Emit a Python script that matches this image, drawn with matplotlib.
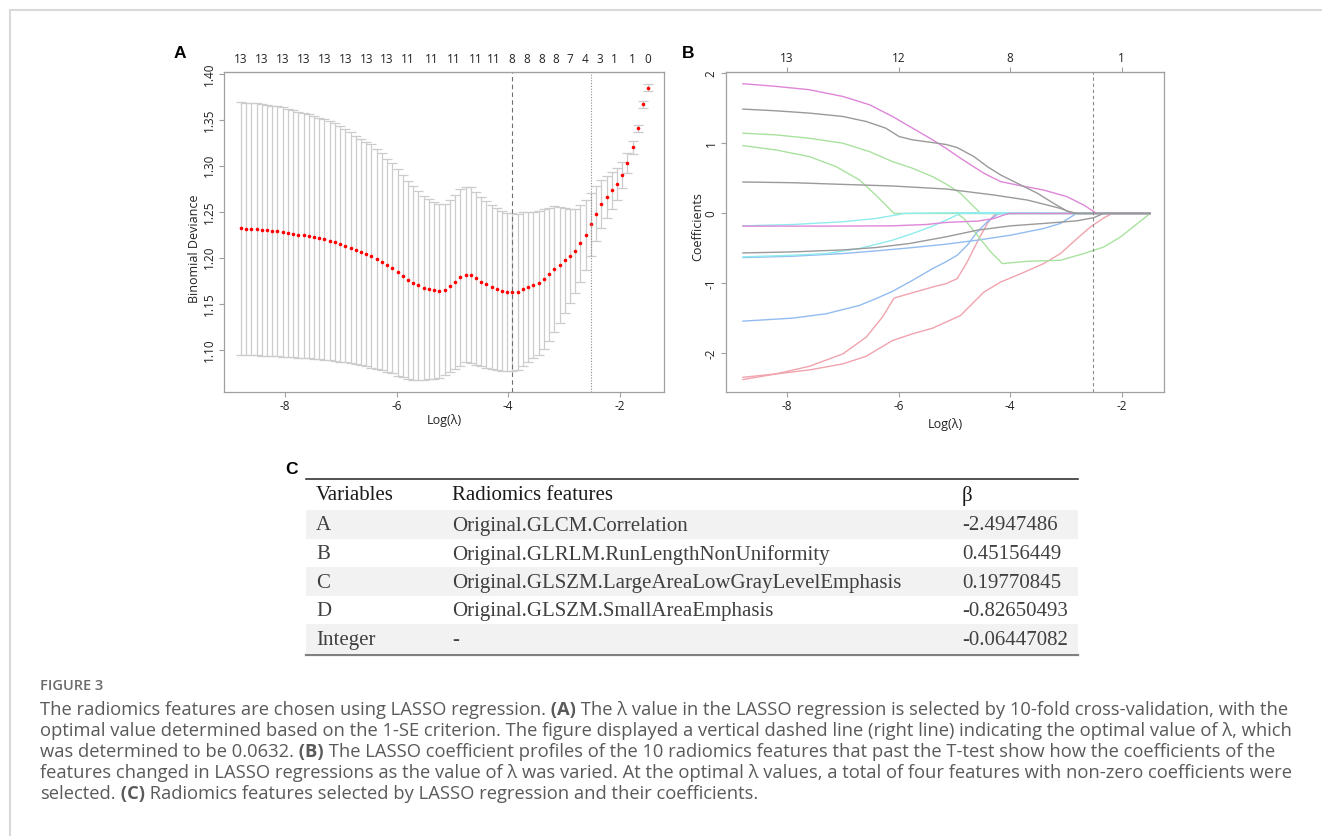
import matplotlib
matplotlib.use("Agg")
import matplotlib.pyplot as plt
from matplotlib.patches import Rectangle

plt.rcParams['axes.unicode_minus'] = False
plt.rcParams['font.family'] = ['Open Sans', 'DejaVu Sans']

# ---- panel A: cross-validation curve ----
log_lambda = [-8.790, -8.696, -8.603, -8.509, -8.416, -8.322, -8.228, -8.135, -8.041, -7.948,
              -7.854, -7.760, -7.667, -7.573, -7.480, -7.386, -7.292, -7.199, -7.105, -7.012,
              -6.918, -6.824, -6.731, -6.637, -6.544, -6.450, -6.356, -6.263, -6.169, -6.076,
              -5.982, -5.888, -5.795, -5.701, -5.608, -5.514, -5.420, -5.327, -5.233, -5.140,
              -5.046, -4.952, -4.859, -4.765, -4.672, -4.578, -4.484, -4.391, -4.297, -4.204,
              -4.110, -4.016, -3.923, -3.829, -3.736, -3.642, -3.548, -3.455, -3.361, -3.268,
              -3.174, -3.080, -2.987, -2.893, -2.800, -2.706, -2.612, -2.519, -2.425, -2.332,
              -2.238, -2.144, -2.051, -1.957, -1.864, -1.770, -1.676, -1.583, -1.490]
cv_mean = [1.2319, 1.2315, 1.2312, 1.2308, 1.2301, 1.2297, 1.2293, 1.2286, 1.2279, 1.2272,
           1.2261, 1.2250, 1.2243, 1.2232, 1.2221, 1.2210, 1.2199, 1.2185, 1.2170, 1.2152,
           1.2130, 1.2108, 1.2083, 1.2061, 1.2040, 1.2018, 1.1986, 1.1957, 1.1920, 1.1884,
           1.1841, 1.1801, 1.1761, 1.1725, 1.1699, 1.1674, 1.1656, 1.1645, 1.1638, 1.1652,
           1.1692, 1.1732, 1.1786, 1.1815, 1.1812, 1.1775, 1.1739, 1.1710, 1.1681, 1.1656,
           1.1638, 1.1630, 1.1627, 1.1630, 1.1659, 1.1685, 1.1703, 1.1728, 1.1768, 1.1819,
           1.1877, 1.1920, 1.1971, 1.2018, 1.2076, 1.2156, 1.2250, 1.2362, 1.2478, 1.2580,
           1.2659, 1.2732, 1.2801, 1.2899, 1.3029, 1.3199, 1.3406, 1.3667, 1.3851]
cv_se = [0.1377, 0.1373, 0.1373, 0.1370, 0.1366, 0.1362, 0.1362, 0.1359, 0.1355, 0.1351,
         0.1344, 0.1337, 0.1333, 0.1326, 0.1319, 0.1312, 0.1308, 0.1301, 0.1293, 0.1283,
         0.1268, 0.1257, 0.1243, 0.1232, 0.1221, 0.1214, 0.1196, 0.1181, 0.1159, 0.1141,
         0.1123, 0.1101, 0.1076, 0.1051, 0.1025, 0.1000, 0.0978, 0.0960, 0.0949, 0.0931,
         0.0935, 0.0946, 0.0964, 0.0953, 0.0953, 0.0938, 0.0920, 0.0909, 0.0891, 0.0880,
         0.0870, 0.0859, 0.0855, 0.0851, 0.0837, 0.0815, 0.0797, 0.0783, 0.0757, 0.0725,
         0.0681, 0.0630, 0.0572, 0.0514, 0.0457, 0.0417, 0.0380, 0.0344, 0.0301, 0.0261,
         0.0228, 0.0199, 0.0170, 0.0141, 0.0109, 0.0069, 0.0040, 0.0036, 0.0036]
log_lambda_min = -3.923
log_lambda_1se = -2.519
df_pos_a = [-8.79, -8.42, -8.04, -7.67, -7.29, -6.92, -6.54, -6.17, -5.80, -5.37, -4.97, -4.58,
            -4.26, -3.94, -3.67, -3.40, -3.15, -2.89, -2.62, -2.36, -2.10, -1.77, -1.50]
df_labels_a = ["13", "13", "13", "13", "13", "13", "13", "13", "11", "11", "11", "11",
               "11", "8", "8", "8", "8", "7", "4", "3", "1", "1", "0"]
yticks_a = [1.10, 1.15, 1.20, 1.25, 1.30, 1.35, 1.40]

# ---- panel B: coefficient paths ----
red1_x = [-8.79, -8.20, -7.60, -7.00, -6.58, -6.29, -6.08, -5.81, -5.39, -5.15, -4.95, -4.77, -4.59, -4.41, -4.29, -4.23, -1.49]
red1_y = [-2.373, -2.292, -2.183, -2.006, -1.767, -1.480, -1.208, -1.146, -1.051, -1.003, -0.931, -0.692, -0.406, -0.143, -0.024, 0, 0]
red2_x = [-8.79, -8.20, -7.60, -7.00, -6.58, -6.11, -5.75, -5.39, -5.15, -4.89, -4.71, -4.47, -4.17, -3.81, -3.40, -3.10, -2.80, -2.56, -2.32, -2.17, -1.49]
red2_y = [-2.340, -2.292, -2.235, -2.149, -2.039, -1.815, -1.719, -1.638, -1.552, -1.457, -1.313, -1.122, -0.979, -0.860, -0.716, -0.573, -0.358, -0.191, -0.062, 0, 0]
blue2_x = [-8.79, -7.90, -7.30, -6.70, -6.41, -6.11, -5.75, -5.39, -5.15, -4.95, -4.77, -4.59, -4.41, -4.23, -4.17, -1.49]
blue2_y = [-1.538, -1.495, -1.433, -1.313, -1.218, -1.113, -0.955, -0.788, -0.690, -0.597, -0.454, -0.263, -0.119, -0.014, 0, 0]
blue1_x = [-8.79, -7.90, -7.00, -6.41, -5.81, -5.15, -4.59, -3.99, -3.40, -3.10, -2.86, -2.82, -1.49]
blue1_y = [-0.630, -0.611, -0.573, -0.535, -0.492, -0.439, -0.382, -0.310, -0.215, -0.143, -0.024, 0, 0]
green1_x = [-8.79, -8.20, -7.60, -7.00, -6.52, -6.11, -5.75, -5.39, -5.15, -4.89, -4.71, -4.53, -1.49]
green1_y = [1.146, 1.122, 1.074, 1.003, 0.883, 0.740, 0.645, 0.525, 0.420, 0.287, 0.143, 0, 0]
green2_x = [-8.79, -8.20, -7.60, -7.12, -6.70, -6.41, -6.23, -6.08, -1.49]
green2_y = [0.969, 0.907, 0.812, 0.669, 0.478, 0.263, 0.119, 0, 0]
green3_x = [-4.95, -4.83, -4.59, -4.35, -4.14, -3.69, -3.10, -2.68, -2.32, -2.02, -1.72, -1.49]
green3_y = [0, -0.072, -0.310, -0.549, -0.716, -0.683, -0.669, -0.573, -0.478, -0.334, -0.143, 0]
cyan2_x = [-8.79, -7.90, -7.30, -6.70, -6.11, -5.75, -5.39, -5.15, -4.92, -4.89, -1.49]
cyan2_y = [-0.621, -0.597, -0.573, -0.501, -0.382, -0.287, -0.181, -0.096, -0.010, 0, 0]
cyan1_x = [-8.79, -7.90, -7.00, -6.41, -5.99, -5.90, -5.00, -3.50, -2.95, -1.49]
cyan1_y = [-0.177, -0.158, -0.119, -0.072, -0.014, 0.0, 0.010, 0.012, 0, 0]
magenta2_x = [-8.79, -7.30, -6.11, -5.51, -5.15, -4.89, -4.59, -4.29, -4.12, -4.02, -1.49]
magenta2_y = [-0.181, -0.181, -0.177, -0.158, -0.129, -0.119, -0.110, -0.072, -0.024, 0, 0]
magenta1_x = [-8.79, -8.20, -7.60, -7.00, -6.52, -6.11, -5.75, -5.39, -5.15, -4.89, -4.47, -4.17, -3.81, -3.40, -2.98, -2.68, -2.45, -1.49]
magenta1_y = [1.853, 1.815, 1.767, 1.671, 1.552, 1.385, 1.218, 1.051, 0.930, 0.788, 0.573, 0.454, 0.396, 0.334, 0.239, 0.119, 0, 0]
gray2_x = [-8.79, -7.90, -7.00, -6.11, -5.15, -4.29, -3.69, -3.10, -2.86, -1.49]
gray2_y = [0.449, 0.439, 0.415, 0.392, 0.349, 0.263, 0.191, 0.072, 0, 0]
gray1_x = [-8.79, -8.20, -7.60, -7.00, -6.58, -6.23, -5.99, -5.75, -5.39, -5.15, -4.95, -4.65, -4.41, -4.17, -3.87, -3.51, -3.22, -2.98, -2.80, -1.49]
gray1_y = [1.490, 1.466, 1.433, 1.385, 1.313, 1.218, 1.098, 1.051, 1.012, 0.985, 0.941, 0.812, 0.669, 0.549, 0.430, 0.287, 0.143, 0.033, 0, 0]
gray3_x = [-8.79, -7.90, -7.00, -6.41, -5.81, -5.15, -4.59, -3.99, -3.40, -2.80, -2.50, -2.33, -1.49]
gray3_y = [-0.564, -0.549, -0.521, -0.487, -0.430, -0.334, -0.239, -0.177, -0.143, -0.105, -0.060, 0, 0]
df_pos_b = [-8, -6, -4, -2]
df_labels_b = ["13", "12", "8", "1"]

# ---- panel C: table ----
variables = ["A", "B", "C", "D", "Integer"]
features = ["Original.GLCM.Correlation", "Original.GLRLM.RunLengthNonUniformity",
            "Original.GLSZM.LargeAreaLowGrayLevelEmphasis", "Original.GLSZM.SmallAreaEmphasis", "-"]
betas = ["-2.4947486", "0.45156449", "0.19770845", "-0.82650493", "-0.06447082"]

caption_lines = [
    [("The radiomics features are chosen using LASSO regression.", False), (" (A)", True),
     (" The \u03bb value in the LASSO regression is selected by 10-fold cross-validation, with the", False)],
    [("optimal value determined based on the 1-SE criterion. The figure displayed a vertical dashed line (right line) indicating the optimal value of \u03bb, which", False)],
    [("was determined to be 0.0632.", False), (" (B)", True),
     (" The LASSO coefficient profiles of the 10 radiomics features that past the T-test show how the coefficients of the", False)],
    [("features changed in LASSO regressions as the value of \u03bb was varied. At the optimal \u03bb values, a total of four features with non-zero coefficients were", False)],
    [("selected.", False), (" (C)", True), (" Radiomics features selected by LASSO regression and their coefficients.", False)],
]

W, H = 1322, 836
fig = plt.figure(figsize=(W / 100, H / 100), dpi=100)


def box(l, t, r, b):
    return [l / W, 1 - b / H, (r - l) / W, (b - t) / H]


bg = fig.add_axes([0, 0, 1, 1])
bg.set_xlim(0, W)
bg.set_ylim(H, 0)
bg.axis('off')


def style(ax):
    for s in ax.spines.values():
        s.set_color('#a0a0a0')
        s.set_linewidth(0.9)
    ax.tick_params(direction='out', length=3.5, width=0.8, color='#a0a0a0',
                   labelsize=8.5, labelcolor='#222222', pad=2.5)
    for lab in ax.get_yticklabels():
        lab.set_rotation(90)
        lab.set_va('center')


# panel A
axA = fig.add_axes(box(224, 72, 664, 392))
axA.errorbar(log_lambda, cv_mean, yerr=cv_se, fmt='none', ecolor='#cccccc',
             elinewidth=0.9, capsize=3.5, capthick=0.9)
axA.plot(log_lambda, cv_mean, 'o', ms=2.6, color='red', mec='none')
axA.axvline(log_lambda_min, color='#6e6e6e', ls=(0, (4, 3)), lw=0.8)
axA.axvline(log_lambda_1se, color='#8c8c8c', ls=(0, (1, 1.5)), lw=0.8)
axA.set_xlim(-9.093, -1.208)
axA.set_ylim(1.054, 1.402)
axA.set_xticks([-8, -6, -4, -2])
axA.set_yticks(yticks_a, labels=["%.2f" % v for v in yticks_a])
style(axA)
axA.set_xlabel("Log(\u03bb)", fontsize=9, color='#222222')
axA.xaxis.set_label_coords(0.5, -0.068)
axA.set_ylabel("Binomial Deviance", fontsize=9, color='#222222')
axA.yaxis.set_label_coords(-0.052, 0.447)
topA = axA.secondary_xaxis('top')
topA.set_xticks(df_pos_a, labels=df_labels_a)
topA.tick_params(length=0, pad=4, labelsize=8.5, labelcolor='#222222')
topA.spines['top'].set_color('#a0a0a0')

# panel B
axB = fig.add_axes(box(726, 72, 1164, 392))
paths = [(red1_x, red1_y, '#f0a3ae'), (red2_x, red2_y, '#f0a3ae'),
         (blue2_x, blue2_y, '#92bcf0'), (blue1_x, blue1_y, '#92bcf0'),
         (green1_x, green1_y, '#a9e29f'), (green2_x, green2_y, '#a9e29f'),
         (green3_x, green3_y, '#a9e29f'), (cyan2_x, cyan2_y, '#8eecee'),
         (cyan1_x, cyan1_y, '#8eecee'), (magenta2_x, magenta2_y, '#de86d8'),
         (magenta1_x, magenta1_y, '#de86d8'), (gray2_x, gray2_y, '#9a9a9a'),
         (gray1_x, gray1_y, '#9a9a9a'), (gray3_x, gray3_y, '#9a9a9a')]
for px, py, c in paths:
    axB.plot(px, py, color=c, lw=1.0)
axB.axvline(log_lambda_1se, color='#8c8c8c', ls=(0, (3, 2.5)), lw=0.8)
axB.set_xlim(-9.093, -1.244)
axB.set_ylim(-2.55, 2.02)
axB.set_xticks([-8, -6, -4, -2])
axB.set_yticks([-2, -1, 0, 1, 2])
style(axB)
axB.set_xlabel("Log(\u03bb)", fontsize=9, color='#222222')
axB.xaxis.set_label_coords(0.5, -0.082)
axB.set_ylabel("Coefficients", fontsize=9, color='#222222')
axB.yaxis.set_label_coords(-0.050, 0.516)
topB = axB.secondary_xaxis('top')
topB.set_xticks(df_pos_b, labels=df_labels_b)
topB.tick_params(direction='out', length=3.5, width=0.8, color='#a0a0a0',
                 pad=1.5, labelsize=8.5, labelcolor='#222222')
topB.spines['top'].set_color('#a0a0a0')

# frame lines and panel letters
bg.plot([10, W], [9.5, 9.5], color='#d9d9d9', lw=1.5)
bg.plot([10, 10], [9.5, H], color='#d9d9d9', lw=1.5)
for letter, x, y in [("A", 180, 53), ("B", 688, 53), ("C", 291, 469)]:
    bg.text(x, y, letter, fontsize=12.5, fontweight='bold', ha='center', va='center',
            family=['Liberation Sans', 'DejaVu Sans'], color='black')

# table
t_left, t_right = 306, 1078
row_top0, row_h = 510, 28.6
col_x = [316, 452, 962]
serif = ['Liberation Serif', 'DejaVu Serif']
bg.plot([t_left, t_right], [479.3, 479.3], color='#222222', lw=1.1)
for i, (v, f, b) in enumerate(zip(variables, features, betas)):
    top = row_top0 + i * row_h
    if i % 2 == 0:
        bg.add_patch(Rectangle((t_left, top), t_right - t_left, row_h, color='#f2f2f2', lw=0, zorder=0))
    yc = top + 16
    for x, s in zip(col_x, [v, f, b]):
        bg.text(x, yc, s, fontsize=15, family=serif, color='#404040', ha='left', va='center')
bg.plot([t_left, t_right], [654.5, 654.5], color='#808080', lw=1.6)
for x, s in zip(col_x, ["Variables", "Radiomics features", "\u03b2"]):
    bg.text(x, 496, s, fontsize=15, family=serif, color='#1a1a1a', ha='left', va='center')

# caption
bg.text(40, 686, "FIGURE 3", fontsize=10.5, fontweight='semibold', color='#6b6b6b',
        ha='left', va='center')
renderer = fig.canvas.get_renderer()
for k, parts in enumerate(caption_lines):
    x = 40
    y = 710 + k * 21
    for s, bold in parts:
        t = bg.text(x, y, s, fontsize=13.2, fontweight='bold' if bold else 'normal',
                    color='#5a5a5a', ha='left', va='center')
        x += t.get_window_extent(renderer=renderer).width

fig.savefig("out.png", dpi=100)
